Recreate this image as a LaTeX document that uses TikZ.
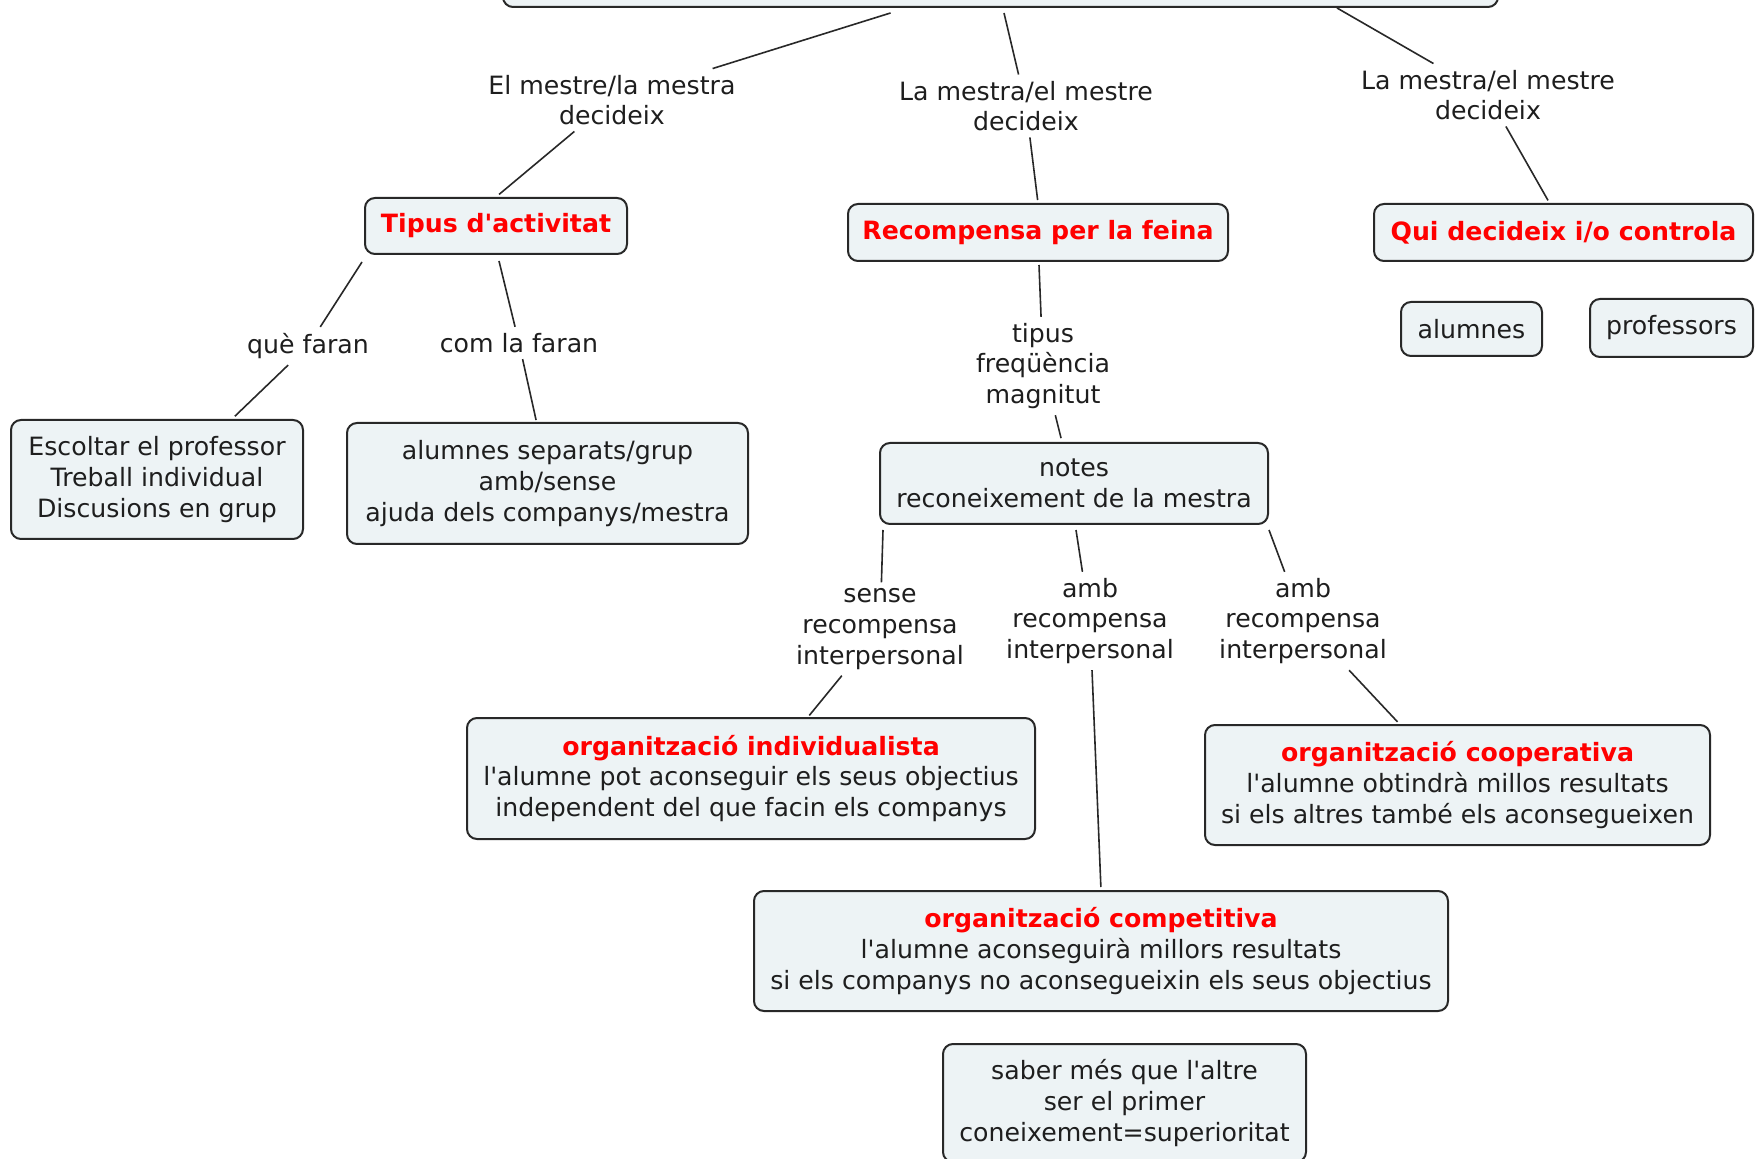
\documentclass[tikz,border=0pt]{standalone}
\usepackage{fontspec}
\newfontfamily\dvs{DejaVu Sans}
\usetikzlibrary{calc}
\definecolor{boxfill}{RGB}{237,243,245}
\definecolor{boxline}{RGB}{40,40,40}
\definecolor{txt}{RGB}{30,30,30}
\definecolor{titlered}{RGB}{255,0,0}
\newcommand\fsz{\dvs\fontsize{12.6pt}{15.3pt}\selectfont}
\newcommand\redtitle[1]{{\color{titlered}\bfseries #1}}
\begin{document}
\begin{tikzpicture}[x=0.5pt,y=-0.5pt,
  box/.style={draw=boxline, line width=1pt, fill=boxfill, rounded corners=5pt,
    align=center, text=txt, inner sep=0pt, font=\fsz},
  lab/.style={align=center, text=txt, inner sep=3pt, font=\fsz},
  conn/.style={draw=boxline, line width=0.8pt}]
\useasboundingbox (0,0) rectangle (1755,1159);
\clip (0,0) rectangle (1755,1159);
\fill[white] (0,0) rectangle (1755,1159);

% boxes
\node[box, minimum width=497.5pt, minimum height=40pt] (top) at (1000.5,-33) {};
\node[box, minimum width=131pt, minimum height=28pt] (tipus) at (496,226) {\redtitle{Tipus d'activitat}};
\node[box, minimum width=190pt, minimum height=28.5pt] (recomp) at (1038,232.5) {\redtitle{Recompensa per la feina}};
\node[box, minimum width=189.5pt, minimum height=28.5pt] (qui) at (1563.5,232.5) {\redtitle{Qui decideix i/o controla}};
\node[box, minimum width=70.5pt, minimum height=27pt] (alum) at (1471.5,329) {alumnes};
\node[box, minimum width=81.5pt, minimum height=29pt] (prof) at (1671.5,328) {professors};
\node[box, minimum width=146pt, minimum height=59.5pt] (esc) at (157,479.5) {Escoltar el professor\\Treball individual\\Discusions en grup};
\node[box, minimum width=200.5pt, minimum height=60.5pt] (sep) at (547.5,483.5) {alumnes separats/grup\\amb/sense\\ajuda dels companys/mestra};
\node[box, minimum width=194pt, minimum height=40.5pt] (notes) at (1074,483.5) {notes\\reconeixement de la mestra};
\node[box, minimum width=284pt, minimum height=60.5pt] (indiv) at (751,778.5) {\redtitle{organització individualista}\\l'alumne pot aconseguir els seus objectius\\independent del que facin els companys};
\node[box, minimum width=252.5pt, minimum height=60pt] (coop) at (1457.5,785) {\redtitle{organització cooperativa}\\l'alumne obtindrà millos resultats\\si els altres també els aconsegueixen};
\node[box, minimum width=347pt, minimum height=60pt] (comp) at (1101,951) {\redtitle{organització competitiva}\\l'alumne aconseguirà millors resultats\\si els companys no aconsegueixin els seus objectius};
\node[box, minimum width=181.5pt, minimum height=59pt] (saber) at (1124.5,1103) {saber més que l'altre\\ser el primer\\coneixement=superioritat};

% labels
\node[lab] (l1) at (612,100) {El mestre/la mestra\\decideix};
\node[lab] (l2) at (1026,106) {La mestra/el mestre\\decideix};
\node[lab] (l3) at (1488,95) {La mestra/el mestre\\decideix};
\node[lab] (l4) at (308,346) {què faran};
\node[lab] (l5) at (519,343) {com la faran};
\node[lab] (l6) at (1043,366) {tipus\\freqüència\\magnitut};
\node[lab] (l7) at (880,629) {sense\\recompensa\\interpersonal};
\node[lab] (l8) at (1090,621) {amb\\recompensa\\interpersonal};
\node[lab] (l9) at (1303,621) {amb\\recompensa\\interpersonal};

% connectors
\draw[conn] ($(top.south)+(-110,5)$) -- (l1);
\draw[conn, shorten >=2pt] (l1) -- (tipus.north);
\draw[conn] ($(top.south)+(3.5,5)$) -- (l2);
\draw[conn, shorten >=1.5pt] (l2) -- (recomp.north);
\draw[conn] ($(top.south)+(336.5,0)$) -- (l3);
\draw[conn, shorten >=1.5pt] (l3) -- ($(qui.north)+(-14,0)$);
\draw[conn] ($(tipus.south west)+(-2,7)$) -- (l4);
\draw[conn, shorten >=2pt] (l4) -- ($(esc.north)+(75,0)$);
\draw[conn] ($(tipus.south)+(3,6)$) -- (l5);
\draw[conn, shorten >=1pt] (l5) -- ($(sep.north)+(-11,0)$);
\draw[conn] ($(recomp.south)+(1,3)$) -- (l6);
\draw[conn, shorten >=2pt] (l6) -- ($(notes.north)+(-12,0)$);
\draw[conn] ($(notes.south west)+(4,5)$) -- (l7);
\draw[conn, shorten >=1pt] (l7) -- ($(indiv.north)+(57,0)$);
\draw[conn] ($(notes.south)+(2,5)$) -- (l8);
\draw[conn, shorten >=1.5pt] (l8) -- (comp.north);
\draw[conn] ($(notes.south east)+(0,5)$) -- (l9);
\draw[conn, shorten >=1.5pt] (l9) -- ($(coop.north)+(-58,0)$);
\end{tikzpicture}
\end{document}
